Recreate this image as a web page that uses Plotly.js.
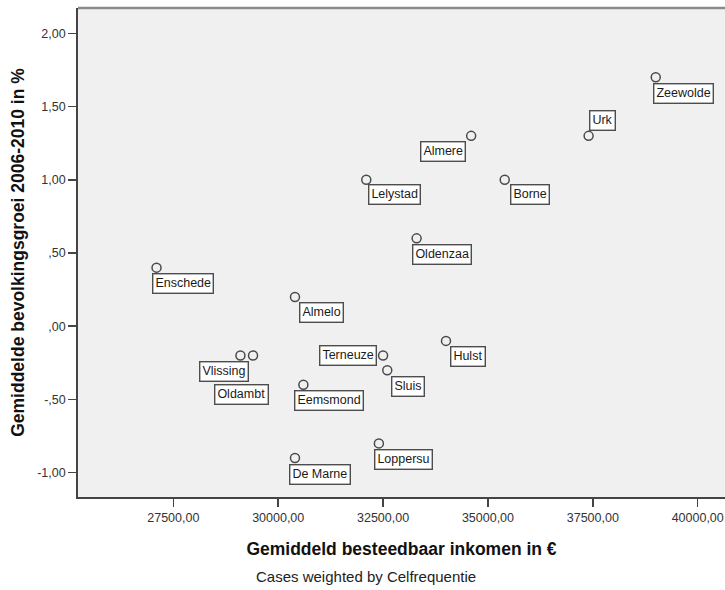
<!DOCTYPE html>
<html>
<head>
<meta charset="utf-8">
<script src="https://cdn.plot.ly/plotly-3.0.1.min.js"></script>
<style>html,body{margin:0;padding:0;background:#fff;}</style>
</head>
<body>
<div id="chart" style="width:725px;height:590px;"></div>
<script>
// Data
const gemeenten = ["Enschede","Almelo","Lelystad","Almere","Borne","Oldenzaa","Urk","Zeewolde",
                   "Vlissing","Oldambt","Eemsmond","De Marne","Terneuze","Sluis","Hulst","Loppersu"];
const inkomen = [27100, 30400, 32100, 34600, 35400, 33300, 37400, 39000,
                 29400, 29100, 30600, 30400, 32500, 32600, 34000, 32400];
const groei = [0.40, 0.20, 1.00, 1.30, 1.00, 0.60, 1.30, 1.70,
               -0.20, -0.20, -0.40, -0.90, -0.20, -0.30, -0.10, -0.80];

const xTickVals = [27500, 30000, 32500, 35000, 37500, 40000];
const xTickText = ["27500,00","30000,00","32500,00","35000,00","37500,00","40000,00"];
const yTickVals = [-1, -0.5, 0, 0.5, 1, 1.5, 2];
const yTickText = ["-1,00","-,50",",00",",50","1,00","1,50","2,00"];

// label placement offsets (pixels, label centre relative to point; +dy = down)
const labelDx = [26, 27, 28, -28, 25, 25, 14, 28, -29, 1, 26, 25, -35, 21, 22, 25];
const labelDy = [16, 16, 15, 16, 15, 16, -15, 16, 16, 39, 16, 16, 0, 16, 16, 16];

const FONT = "'Liberation Sans', Arial, sans-serif";

const trace = {
  type: "scatter",
  mode: "markers",
  x: inkomen,
  y: groei,
  text: gemeenten,
  hoverinfo: "text+x+y",
  marker: {symbol: "circle-open", size: 9, color: "#4a4a4a", line: {width: 1.5, color: "#4a4a4a"}},
  showlegend: false
};

const annotations = gemeenten.map((name, i) => ({
  x: inkomen[i], y: groei[i], xref: "x", yref: "y",
  text: name, showarrow: false,
  xanchor: "center", yanchor: "middle",
  xshift: labelDx[i], yshift: -labelDy[i],
  font: {family: FONT, size: 12.5, color: "#1a1a1a"},
  bgcolor: "#ffffff", bordercolor: "#4d4d4d", borderwidth: 1.4, borderpad: 2
}));

annotations.push({
  xref: "paper", yref: "paper", x: 0.445, y: -0.1616, xanchor: "center", yanchor: "middle",
  text: "Cases weighted by Celfrequentie", showarrow: false,
  font: {family: FONT, size: 15, color: "#222222"}
});

const layout = {
  width: 725, height: 590,
  margin: {l: 78, r: 0, t: 8, b: 93},
  paper_bgcolor: "#ffffff",
  plot_bgcolor: "#f0f0f0",
  separators: ",.",
  font: {family: FONT, color: "#333333"},
  xaxis: {
    range: [25228, 40651],
    tickvals: xTickVals, ticktext: xTickText,
    ticks: "outside", ticklen: 8, tickwidth: 1.5, tickcolor: "#444444",
    tickfont: {family: FONT, size: 12.5, color: "#333333"},
    showgrid: false, zeroline: false,
    showline: true, linecolor: "#444444", linewidth: 1.8,
    title: {text: "Gemiddeld besteedbaar inkomen in €", standoff: 19,
            font: {family: FONT, size: 17.5, color: "#111111", weight: "bold"}},
    fixedrange: true
  },
  yaxis: {
    range: [-1.166, 2.173],
    tickvals: yTickVals, ticktext: yTickText,
    ticks: "outside", ticklen: 8, tickwidth: 1.5, tickcolor: "#444444",
    tickfont: {family: FONT, size: 12.5, color: "#333333"},
    showgrid: false, zeroline: false,
    showline: true, linecolor: "#444444", linewidth: 1.8,
    title: {text: "Gemiddelde bevolkingsgroei 2006-2010 in %", standoff: 8,
            font: {family: FONT, size: 17.5, color: "#111111", weight: "bold"}},
    fixedrange: true
  },
  shapes: [{
    type: "line", xref: "paper", yref: "paper", x0: 0, x1: 1, y0: 1, y1: 1,
    line: {color: "#8a8a8a", width: 2.5}
  }],
  annotations: annotations
};

Plotly.newPlot("chart", [trace], layout, {displayModeBar: false, staticPlot: true});
</script>
</body>
</html>
